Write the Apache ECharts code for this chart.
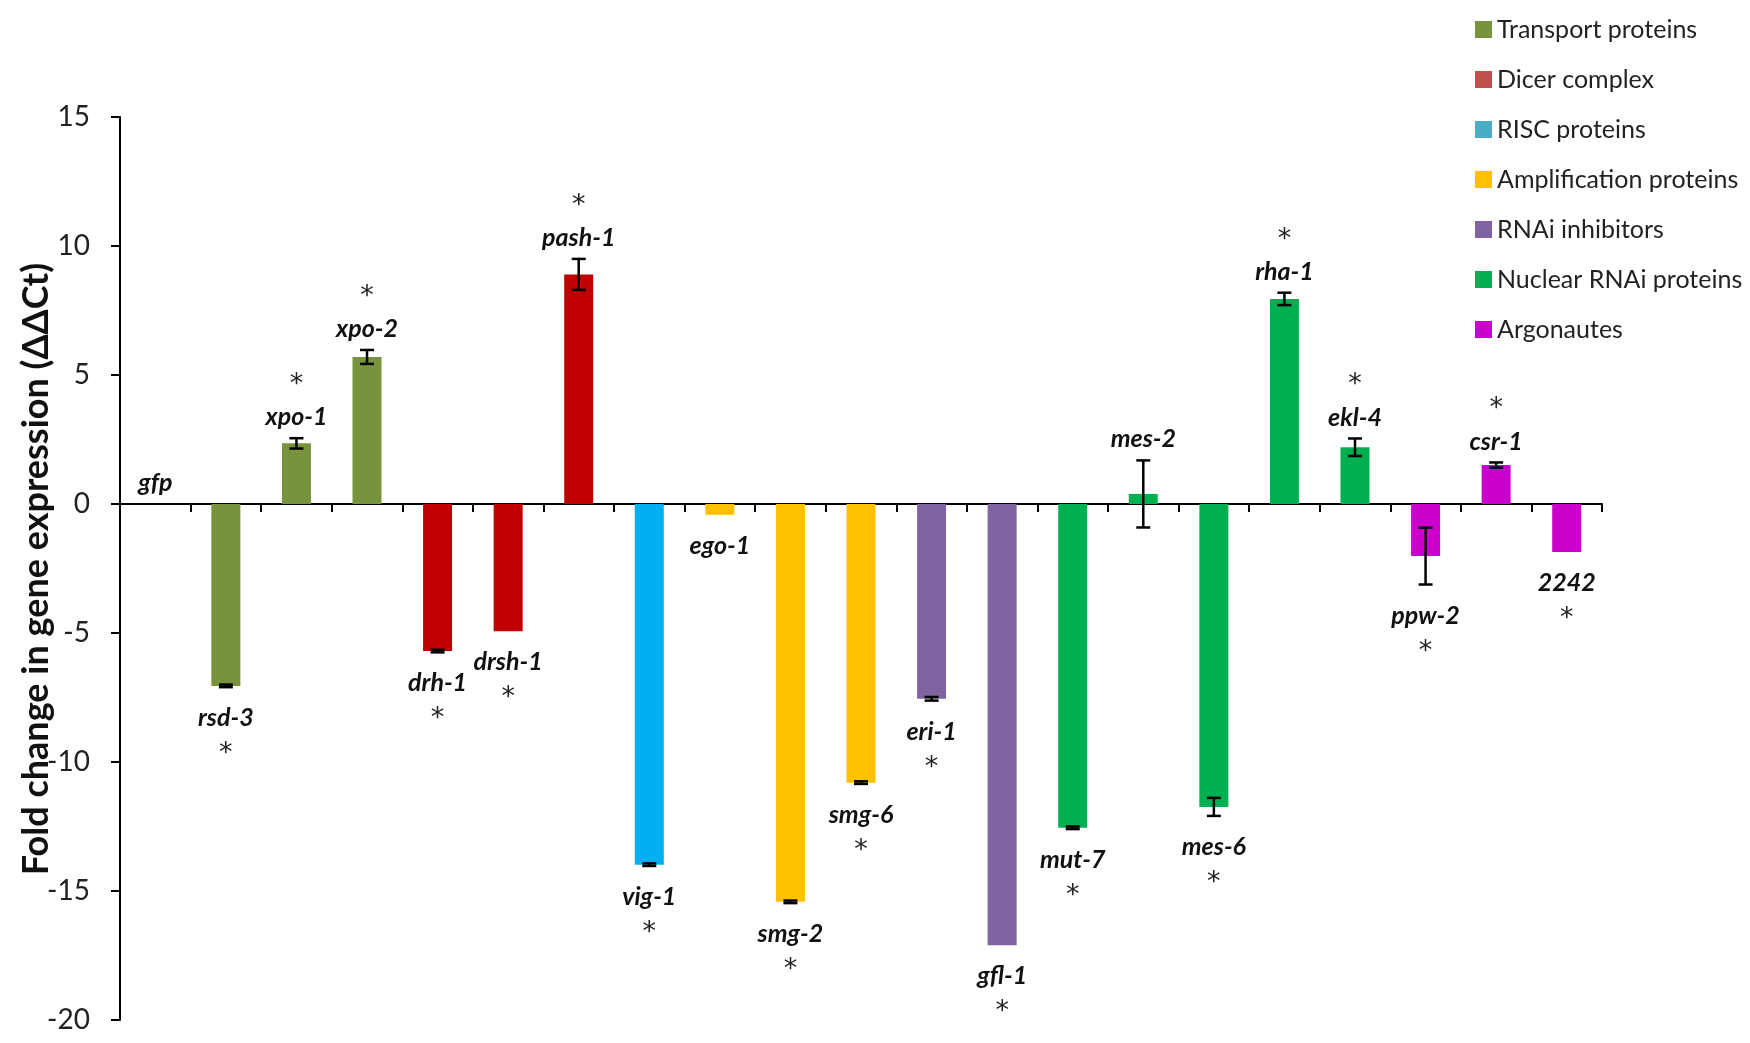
<!DOCTYPE html>
<html>
<head>
<meta charset="utf-8">
<script src="https://cdn.jsdelivr.net/npm/echarts@6/dist/echarts.min.js"></script>
<style>
html, body { margin: 0; padding: 0; background: #fff; }
#chart { width: 1750px; height: 1043px; }
</style>
</head>
<body>
<div id="chart"></div>
<script>
// gene names in plot order
var genes = ['gfp', 'rsd-3', 'xpo-1', 'xpo-2', 'drh-1', 'drsh-1', 'pash-1', 'vig-1', 'ego-1', 'smg-2', 'smg-6',
    'eri-1', 'gfl-1', 'mut-7', 'mes-2', 'mes-6', 'rha-1', 'ekl-4', 'ppw-2', 'csr-1', '2242'];
// fold change (ddCt)
var values = [0, -7.05, 2.35, 5.7, -5.7, -4.93, 8.9, -13.98, -0.42, -15.42, -10.8, -7.55, -17.1, -12.55,
    0.39, -11.74, 7.95, 2.2, -2.02, 1.51, -1.86];
// error bar half-length
var errors = [0, 0.05, 0.2, 0.27, 0.05, 0, 0.6, 0.05, 0, 0.05, 0.05, 0.07, 0, 0.05,
    1.3, 0.35, 0.24, 0.34, 1.1, 0.1, 0];
// 1 = marked with *
var signif = [0, 1, 1, 1, 1, 1, 1, 1, 0, 1, 1, 1, 1, 1, 0, 1, 1, 1, 1, 1, 1];
var groups = ['Transport proteins', 'Dicer complex', 'RISC proteins', 'Amplification proteins',
    'RNAi inhibitors', 'Nuclear RNAi proteins', 'Argonautes'];
var groupOf = [0, 0, 0, 0, 1, 1, 1, 2, 3, 3, 3, 4, 4, 5, 5, 5, 5, 5, 6, 6, 6];
var barColors = ['#77933C', '#C00000', '#00B0F0', '#FFC000', '#8064A2', '#00B050', '#CC00CC'];
var legendColors = ['#77933C', '#C0504D', '#4BACC6', '#FFC000', '#8064A2', '#00B050', '#CC00CC'];

var chart = echarts.init(document.getElementById('chart'));
var FONT = 'Lato, "Open Sans", sans-serif';

var series = groups.map(function (g, k) {
    return {
        name: g,
        type: 'bar',
        stack: 'all',
        barWidth: 29,
        itemStyle: { color: legendColors[k] },
        data: values.map(function (v, i) {
            return groupOf[i] === k ? { value: v, itemStyle: { color: barColors[k] } } : '-';
        })
    };
});

// error bars, gene labels and asterisks
series.push({
    name: 'err',
    type: 'custom',
    z: 10,
    data: values.map(function (v, i) { return [i, v, errors[i]]; }),
    renderItem: function (params, api) {
        var i = api.value(0), v = api.value(1), e = api.value(2);
        var up = v >= 0;
        var pEnd = api.coord([i, up ? v + e : v - e]);
        var kids = [];
        if (e > 0) {
            var hi = api.coord([i, v + e]), lo = api.coord([i, v - e]);
            var st = { stroke: '#000', lineWidth: 2.5 };
            kids.push({ type: 'line', shape: { x1: hi[0], y1: hi[1], x2: lo[0], y2: lo[1] }, style: st });
            kids.push({ type: 'line', shape: { x1: hi[0] - 7, y1: hi[1], x2: hi[0] + 7, y2: hi[1] }, style: st });
            kids.push({ type: 'line', shape: { x1: lo[0] - 7, y1: lo[1], x2: lo[0] + 7, y2: lo[1] }, style: st });
        }
        kids.push({
            type: 'text',
            style: {
                text: genes[i], x: pEnd[0], y: pEnd[1] + (up ? -21 : 31),
                align: 'center', verticalAlign: 'middle',
                fontStyle: 'italic', fontWeight: 'bold', fontSize: 25, fontFamily: FONT, fill: '#111'
            }
        });
        if (signif[i]) {
            kids.push({
                type: 'text',
                style: {
                    text: '*', x: pEnd[0], y: pEnd[1] + (up ? -53 : 67),
                    align: 'center', verticalAlign: 'middle',
                    fontSize: 27, fontFamily: '"DejaVu Sans", sans-serif', fill: '#222'
                }
            });
        }
        return { type: 'group', children: kids };
    }
});

chart.setOption({
    animation: false,
    grid: { left: 120, right: 148, top: 117, bottom: 23 },
    legend: {
        orient: 'vertical',
        left: 1470,
        top: 12,
        data: groups,
        icon: 'rect',
        itemWidth: 17,
        itemHeight: 17,
        itemGap: 25,
        textStyle: { fontSize: 25, fontFamily: FONT, color: '#222' }
    },
    graphic: [{
        type: 'text',
        x: 36,
        y: 569,
        rotation: Math.PI / 2,
        style: {
            text: 'Fold change in gene expression (ΔΔCt)',
            align: 'center', verticalAlign: 'middle',
            fontWeight: 'bold', fontSize: 36, fontFamily: FONT, fill: '#111'
        }
    }],
    xAxis: {
        type: 'category',
        data: genes,
        axisLine: { lineStyle: { color: '#000', width: 2 } },
        axisTick: { show: true, interval: 0, length: 8, lineStyle: { color: '#000', width: 2 } },
        axisLabel: { show: false }
    },
    yAxis: {
        type: 'value',
        min: -20,
        max: 15,
        interval: 5,
        axisLine: { show: true, lineStyle: { color: '#000', width: 2 } },
        axisTick: { show: true, length: 9, lineStyle: { color: '#000', width: 2 } },
        axisLabel: { fontSize: 28, color: '#222', margin: 30, fontFamily: FONT },
        splitLine: { show: false }
    },
    series: series
});
</script>
</body>
</html>
